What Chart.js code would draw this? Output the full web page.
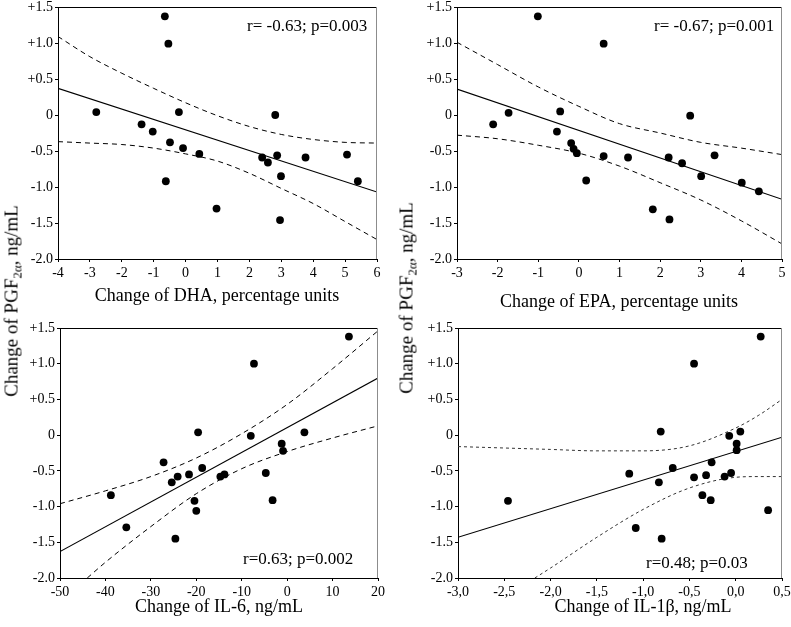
<!DOCTYPE html>
<html>
<head>
<meta charset="utf-8">
<script src="https://cdn.jsdelivr.net/npm/chart.js@4.4.1/dist/chart.umd.min.js"></script>
<style>
  html, body { margin: 0; padding: 0; background: #fff; }
  body { position: relative; width: 791px; height: 627px; overflow: hidden;
         font-family: 'Liberation Serif', 'Times New Roman', serif; color: #000; }
  .panel { position: absolute; }
  .lbl   { position: absolute; white-space: nowrap; font-size: 18px; line-height: 1; }
  .xt    { transform: translate(-50%, -50%); }
  .yt    { transform: translate(-50%, -50%) rotate(-90deg); font-size: 19px; }
  .note  { position: absolute; white-space: nowrap; font-size: 17px; line-height: 1; transform: translateY(-50%); }
  sub    { font-size: 0.68em; vertical-align: -0.3em; line-height: 0; }
</style>
</head>
<body>

<div class="panel" style="left:0;top:-13px;width:397px;height:302px"><canvas id="cDHA"></canvas></div>
<div class="panel" style="left:392px;top:-13px;width:408px;height:302px"><canvas id="cEPA"></canvas></div>
<div class="panel" style="left:0;top:308px;width:398px;height:300px"><canvas id="cIL6"></canvas></div>
<div class="panel" style="left:392px;top:308px;width:408px;height:300px"><canvas id="cIL1B"></canvas></div>

<!-- axis titles -->
<div class="lbl xt" style="left:217px;top:295px">Change of DHA, percentage units</div>
<div class="lbl xt" style="left:619px;top:301px">Change of EPA, percentage units</div>
<div class="lbl xt" style="left:219px;top:606px">Change of IL-6, ng/mL</div>
<div class="lbl xt" style="left:643px;top:606px">Change of IL-1β, ng/mL</div>
<div class="lbl yt" style="left:11px;top:301px">Change of PGF<sub>2α</sub>, ng/mL</div>
<div class="lbl yt" style="left:406px;top:298px">Change of PGF<sub>2α</sub>, ng/mL</div>

<!-- correlation notes -->
<div class="note" style="left:247px;top:25px">r= -0.63; p=0.003</div>
<div class="note" style="left:654px;top:25px">r= -0.67; p=0.001</div>
<div class="note" style="left:243px;top:558px">r=0.63; p=0.002</div>
<div class="note" style="left:646px;top:562px">r=0.48; p=0.03</div>

<script>
'use strict';

/* ── shared y axis: change of PGF2α ── */
const PGF_TICKS       = [-2, -1.5, -1, -0.5, 0, 0.5, 1, 1.5];
const PGF_TICK_LABELS = ['-2.0', '-1.5', '-1.0', '-0.5', '0', '+0.5', '+1.0', '+1.5'];

/* ── DHA ── */
const DHA_TICKS = [-4, -3, -2, -1, 0, 1, 2, 3, 4, 5, 6];
const DHA_X = [-0.65, -0.54, -2.80, -0.21, -1.38, -1.03, -0.49, -0.08, 0.43, -0.62, 0.97,
               2.81, 2.40, 2.58, 2.87, 2.99, 2.96, 3.76, 5.06, 5.40];
const DHA_Y = [1.37, 0.99, 0.04, 0.04, -0.13, -0.23, -0.38, -0.46, -0.54, -0.92, -1.30,
               0.00, -0.59, -0.66, -0.56, -0.85, -1.46, -0.59, -0.55, -0.92];
const DHA_FIT_X  = [-4, 6];
const DHA_FIT_Y  = [0.37, -1.07];
const DHA_BAND_X = [-4, -3, -2, -1, 0, 1, 2, 3, 4, 5, 6];
const DHA_UPPER  = [1.09, 0.81, 0.58, 0.37, 0.17, -0.01, -0.16, -0.27, -0.34, -0.38, -0.39];
const DHA_LOWER  = [-0.37, -0.39, -0.41, -0.46, -0.54, -0.64, -0.81, -1.02, -1.23, -1.48, -1.73];

/* ── EPA ── */
const EPA_TICKS = [-3, -2, -1, 0, 1, 2, 3, 4, 5];
const EPA_X = [-1.01, 0.61, -2.11, -1.73, -0.46, -0.54, -0.19, -0.13, -0.05, 0.18, 0.61,
               1.21, 1.82, 2.23, 2.21, 2.54, 2.74, 3.01, 3.34, 4.01, 4.43];
const EPA_Y = [1.37, 0.99, -0.13, 0.03, 0.05, -0.23, -0.39, -0.47, -0.53, -0.91, -0.57,
               -0.59, -1.31, -1.45, -0.59, -0.67, -0.01, -0.85, -0.56, -0.94, -1.06];
const EPA_FIT_X  = [-3, 5];
const EPA_FIT_Y  = [0.36, -1.17];
const EPA_BAND_X = [-3, -2, -1, 0, 1, 2, 3, 4, 5];
const EPA_UPPER  = [1.01, 0.70, 0.39, 0.12, -0.12, -0.25, -0.38, -0.46, -0.55];
const EPA_LOWER  = [-0.28, -0.33, -0.42, -0.53, -0.71, -0.94, -1.18, -1.47, -1.79];

/* ── IL-6 ── */
const IL6_TICKS = [-50, -40, -30, -20, -10, 0, 10, 20];
const IL6_X = [13.6, -7.3, -19.6, -8.0, 3.8, -1.2, -0.9, -27.2, -18.7, -24.1, -21.6,
               -25.4, -14.7, -13.8, -4.7, -38.8, -20.4, -3.2, -20.0, -35.4, -24.6];
const IL6_Y = [1.38, 1.00, 0.04, -0.01, 0.04, -0.12, -0.22, -0.38, -0.46, -0.58, -0.55,
               -0.66, -0.58, -0.55, -0.53, -0.84, -0.92, -0.91, -1.06, -1.29, -1.45];
const IL6_FIT_X   = [-50, 20];
const IL6_FIT_Y   = [-1.63, 0.80];
const IL6_UPPER_X = [-50, -40, -30, -20, -10, 0, 10, 20];
const IL6_UPPER   = [-0.96, -0.78, -0.58, -0.32, 0.02, 0.43, 0.93, 1.46];
const IL6_LOWER_X = [-44, -40, -30, -20, -10, 0, 10, 20];
const IL6_LOWER   = [-2.0, -1.78, -1.28, -0.82, -0.47, -0.23, -0.04, 0.13];

/* ── IL-1β ── */
const IL1B_TICKS       = [-3, -2.5, -2, -1.5, -1, -0.5, 0, 0.5];
const IL1B_TICK_LABELS = ['-3,0', '-2,5', '-2,0', '-1,5', '-1,0', '-0,5', '0,0', '0,5'];
const IL1B_X = [0.27, -0.45, -0.81, -0.07, 0.05, 0.01, 0.01, -0.26, -0.68, -1.15, -0.45,
                -0.32, -0.12, -0.05, -0.83, -0.36, -0.27, -2.46, 0.35, -1.08, -0.80];
const IL1B_Y = [1.38, 1.00, 0.05, -0.01, 0.05, -0.12, -0.21, -0.38, -0.46, -0.54, -0.59,
                -0.56, -0.58, -0.53, -0.66, -0.84, -0.91, -0.92, -1.05, -1.30, -1.45];
const IL1B_FIT_X   = [-3, 0.5];
const IL1B_FIT_Y   = [-1.43, -0.03];
const IL1B_UPPER_X = [-3, -2.5, -2, -1.5, -1, -0.5, 0, 0.25, 0.5];
const IL1B_UPPER   = [-0.16, -0.18, -0.20, -0.22, -0.22, -0.15, 0.10, 0.28, 0.50];
const IL1B_LOWER_X = [-2.17, -2, -1.5, -1, -0.5, 0, 0.25, 0.5];
const IL1B_LOWER   = [-2.0, -1.86, -1.43, -1.04, -0.74, -0.59, -0.58, -0.58];

/* ══════════════════════════════════════════
   helpers
══════════════════════════════════════════ */

const TICK_FONT = { family: "'Liberation Serif', serif", size: 14 };

const pairs = (xs, ys) => xs.map((x, i) => ({ x, y: ys[i] }));

/* top + right frame of the plot box */
const framePlugin = {
  id: 'frame',
  afterDraw(chart) {
    const { ctx, chartArea: a } = chart;
    ctx.save();
    ctx.lineWidth = 1;
    ctx.strokeStyle = '#000';
    ctx.beginPath();
    ctx.moveTo(a.left, Math.round(a.top) + 0.5);
    ctx.lineTo(a.right, Math.round(a.top) + 0.5);
    ctx.stroke();
    ctx.strokeStyle = '#8c8c8c';
    ctx.beginPath();
    ctx.moveTo(Math.round(a.right) - 0.5, a.top);
    ctx.lineTo(Math.round(a.right) - 0.5, a.bottom);
    ctx.stroke();
    ctx.restore();
  }
};

function lineSet(data, opts) {
  return Object.assign({
    data,
    showLine: true,
    pointRadius: 0,
    borderColor: '#000',
    borderWidth: 1,
    fill: false,
    order: 2
  }, opts);
}

function makePanel(canvasId, p) {
  const bandDash = p.fineDash ? [3, 3] : [5, 4];
  const bandColor = p.fineDash ? '#333' : '#000';

  return new Chart(document.getElementById(canvasId), {
    type: 'scatter',
    data: {
      datasets: [
        {
          data: pairs(p.x, p.y),
          pointRadius: 3.9,
          pointBackgroundColor: '#000',
          pointBorderWidth: 0,
          order: 0
        },
        lineSet(pairs(p.fitX, p.fitY), { borderWidth: 1.1 }),
        lineSet(pairs(p.upX, p.up), { borderDash: bandDash, borderColor: bandColor, cubicInterpolationMode: 'monotone' }),
        lineSet(pairs(p.loX, p.lo), { borderDash: bandDash, borderColor: bandColor, cubicInterpolationMode: 'monotone' })
      ]
    },
    options: {
      responsive: true,
      maintainAspectRatio: false,
      animation: false,
      events: [],
      layout: { padding: { top: 20, right: p.padRight, left: 0, bottom: 0 } },
      plugins: { legend: { display: false }, tooltip: { enabled: false } },
      scales: {
        x: {
          type: 'linear',
          min: p.xTicks[0],
          max: p.xTicks[p.xTicks.length - 1],
          afterBuildTicks: s => { s.ticks = p.xTicks.map(v => ({ value: v })); },
          afterFit: s => { s.height = 30; },
          grid:   { drawOnChartArea: false, tickLength: 3, color: '#000' },
          border: { color: '#000' },
          ticks:  {
            color: '#000', font: TICK_FONT, padding: 3, maxRotation: 0, autoSkip: false,
            callback: (v, i) => (p.xLabels ? p.xLabels[i] : String(p.xTicks[i]))
          }
        },
        y: {
          type: 'linear',
          min: -2,
          max: 1.5,
          afterBuildTicks: s => { s.ticks = PGF_TICKS.map(v => ({ value: v })); },
          afterFit: s => { s.width = p.yWidth; },
          grid:   { drawOnChartArea: false, tickLength: 3, color: '#000' },
          border: { color: '#000' },
          ticks:  { color: '#000', font: TICK_FONT, padding: 2, autoSkip: false,
                    callback: (v, i) => PGF_TICK_LABELS[i] }
        }
      }
    },
    plugins: [framePlugin]
  });
}

/* ══════════════════════════════════════════
   the four panels
══════════════════════════════════════════ */

makePanel('cDHA', {
  x: DHA_X, y: DHA_Y, fitX: DHA_FIT_X, fitY: DHA_FIT_Y,
  upX: DHA_BAND_X, up: DHA_UPPER, loX: DHA_BAND_X, lo: DHA_LOWER,
  xTicks: DHA_TICKS, yWidth: 58, padRight: 20
});

makePanel('cEPA', {
  x: EPA_X, y: EPA_Y, fitX: EPA_FIT_X, fitY: EPA_FIT_Y,
  upX: EPA_BAND_X, up: EPA_UPPER, loX: EPA_BAND_X, lo: EPA_LOWER,
  xTicks: EPA_TICKS, yWidth: 65, padRight: 18
});

makePanel('cIL6', {
  x: IL6_X, y: IL6_Y, fitX: IL6_FIT_X, fitY: IL6_FIT_Y,
  upX: IL6_UPPER_X, up: IL6_UPPER, loX: IL6_LOWER_X, lo: IL6_LOWER,
  xTicks: IL6_TICKS, yWidth: 60, padRight: 20
});

makePanel('cIL1B', {
  x: IL1B_X, y: IL1B_Y, fitX: IL1B_FIT_X, fitY: IL1B_FIT_Y,
  upX: IL1B_UPPER_X, up: IL1B_UPPER, loX: IL1B_LOWER_X, lo: IL1B_LOWER,
  xTicks: IL1B_TICKS, xLabels: IL1B_TICK_LABELS, yWidth: 66, padRight: 18,
  fineDash: true
});
</script>
</body>
</html>
